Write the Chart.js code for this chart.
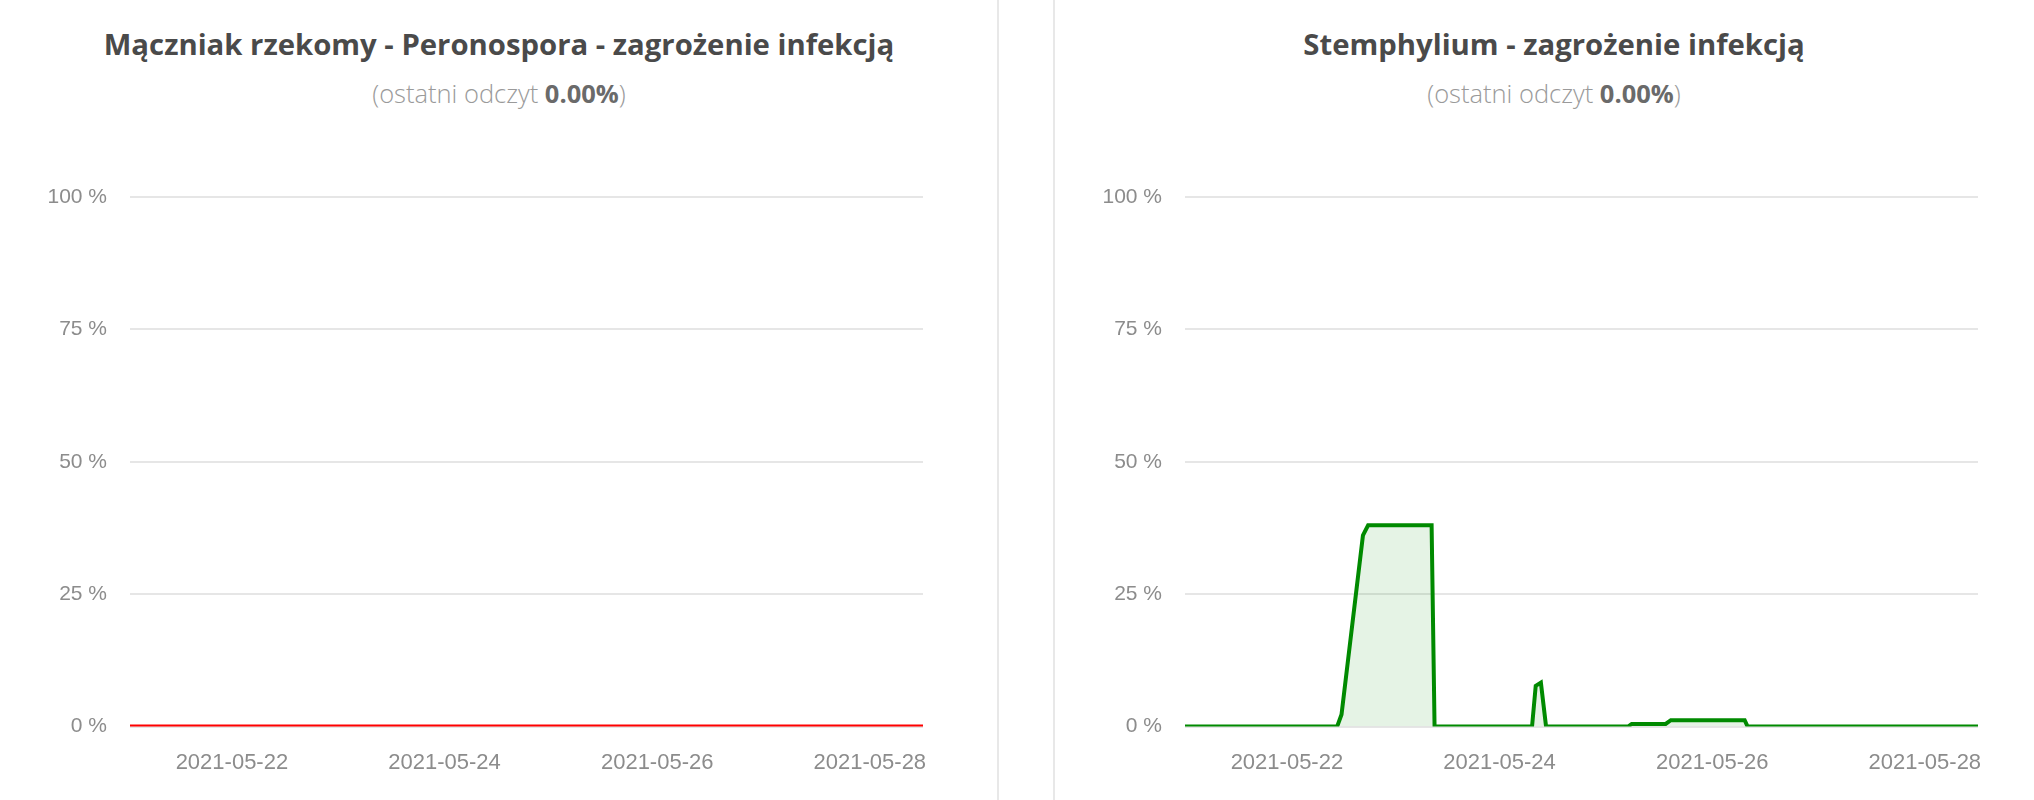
<!DOCTYPE html>
<html>
<head>
<meta charset="utf-8">
<script src="https://cdn.jsdelivr.net/npm/chart.js@4.4.0/dist/chart.umd.min.js"></script>
<style>
  html, body { margin: 0; padding: 0; background: #fff; }
  body { width: 2034px; height: 800px; overflow: hidden; position: relative; }
  .card { position: absolute; top: 0; width: 998px; height: 800px; }
  .card.left { left: 0; border-right: 2px solid #e8e8e8; box-sizing: border-box; width: 999px; }
  .card.right { left: 1053px; border-left: 2px solid #e8e8e8; }
  .title { position: absolute; top: 24px; left: 0; width: 998px; text-align: center;
           font-family: "Open Sans", sans-serif; font-weight: 700; font-size: 29.3px; color: #4a4a4a; }
  .sub { position: absolute; top: 76px; left: 0; width: 998px; text-align: center;
         font-family: "Open Sans", sans-serif; font-weight: 300; font-size: 25.5px; color: #9a9a9a; }
  .sub b { color: #6a6a6a; font-weight: 700; }
  canvas { position: absolute; left: 0; top: 150px; }
</style>
</head>
<body>
<div class="card left">
  <div class="title">Mączniak rzekomy - Peronospora - zagrożenie infekcją</div>
  <div class="sub">(ostatni odczyt <b>0.00%</b>)</div>
  <canvas id="chartPero" width="998" height="650"></canvas>
</div>
<div class="card right">
  <div class="title">Stemphylium - zagrożenie infekcją</div>
  <div class="sub">(ostatni odczyt <b>0.00%</b>)</div>
  <canvas id="chartStem" width="998" height="650"></canvas>
</div>
<script>
// dane
const tickDates = ['2021-05-22', '2021-05-24', '2021-05-26', '2021-05-28'];
const yTicks = [0, 25, 50, 75, 100];

const peroTimes = ['2021-05-21 01:00', '2021-05-28 12:00'];
const peroValues = [0, 0];

const stemTimes = [
  '2021-05-21 01:00', '2021-05-22 11:20', '2021-05-22 12:20', '2021-05-22 17:10',
  '2021-05-22 18:20', '2021-05-23 08:40', '2021-05-23 09:20', '2021-05-24 07:20',
  '2021-05-24 08:10', '2021-05-24 09:20', '2021-05-24 10:30', '2021-05-25 05:00',
  '2021-05-25 05:50', '2021-05-25 13:30', '2021-05-25 14:40', '2021-05-26 07:20',
  '2021-05-26 08:00', '2021-05-28 12:00'
];
const stemValues = [0, 0, 2.3, 36.1, 38, 38, 0, 0, 7.7, 8.3, 0, 0, 0.5, 0.5, 1.2, 1.2, 0, 0];

function toMs(s) {
  return Date.parse(s.replace(' ', 'T') + ':00Z');
}

function makeChart(id, times, values, color, fillColor) {
  const pts = times.map((t, i) => ({ x: toMs(t), y: values[i] }));
  const tickVals = tickDates.map(d => Date.parse(d + 'T00:00:00Z'));
  const ctx = document.getElementById(id).getContext('2d');
  return new Chart(ctx, {
    type: 'line',
    data: {
      datasets: [{
        data: pts,
        borderColor: color,
        backgroundColor: fillColor || 'transparent',
        fill: fillColor ? 'origin' : false,
        borderWidth: 4,
        pointRadius: 0,
        tension: 0
      }]
    },
    options: {
      responsive: false,
      animation: false,
      layout: { padding: { top: 47, right: 75, bottom: 9, left: 0 } },
      plugins: { legend: { display: false }, tooltip: { enabled: false } },
      scales: {
        x: {
          type: 'linear',
          min: pts[0].x,
          max: pts[pts.length - 1].x,
          grid: { display: false },
          border: { display: false },
          afterBuildTicks: function (scale) {
            scale.ticks = tickVals.map(v => ({ value: v }));
          },
          ticks: {
            maxRotation: 0,
            autoSkip: false,
            padding: 15,
            color: '#8c8c8c',
            font: { family: '"Liberation Sans", Arial, sans-serif', size: 22 },
            callback: function (v) {
              return new Date(v).toISOString().slice(0, 10);
            }
          }
        },
        y: {
          min: 0,
          max: 100,
          afterFit: function (scale) { scale.width = 130; },
          afterBuildTicks: function (scale) {
            scale.ticks = yTicks.map(v => ({ value: v }));
          },
          grid: { color: '#e6e6e6', lineWidth: 2, drawTicks: false },
          border: { display: false },
          ticks: {
            padding: 23,
            color: '#8c8c8c',
            font: { family: '"Liberation Sans", Arial, sans-serif', size: 21 },
            callback: function (v) { return v + ' %'; }
          }
        }
      }
    }
  });
}

makeChart('chartPero', peroTimes, peroValues, '#ff0000', null);
makeChart('chartStem', stemTimes, stemValues, '#008a00', 'rgba(0, 138, 0, 0.1)');
</script>
</body>
</html>
